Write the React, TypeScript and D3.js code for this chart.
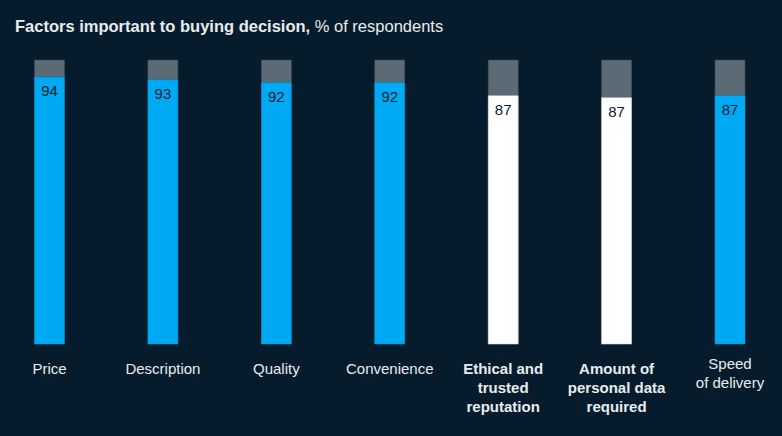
import React from "react";
import * as d3 from "d3";

const categories: string[][] = [
  ["Price"],
  ["Description"],
  ["Quality"],
  ["Convenience"],
  ["Ethical and", "trusted", "reputation"],
  ["Amount of", "personal data", "required"],
  ["Speed", "of delivery"],
];
const values: number[] = [94, 93, 92, 92, 87.4, 86.7, 87.4];
const highlighted: boolean[] = [false, false, false, false, true, true, false];
const labelShift: number[] = [0, 0, 0, 0, 0, 0, -5];

const W = 782;
const H = 436;
const BG = "#061c2c";
const BLUE = "#00a9f4";
const GREY = "#5b6a75";
const TEXT = "#e8ecef";

export default function App() {
  const x = d3
    .scalePoint<number>()
    .domain(values.map((_, i) => i))
    .range([49.5, 730]);
  const y = d3.scaleLinear().domain([0, 100]).range([344, 60]);
  const bw = 30;
  return (
    <svg
      width={W}
      height={H}
      style={{ position: "absolute", left: 0, top: 0, background: BG }}
      fontFamily="'Liberation Sans', Arial, sans-serif"
    >
      <rect width={W} height={H} fill={BG} />
      <text x={15} y={32} fontSize={16.5} fill={TEXT}>
        <tspan fontWeight="bold">Factors important to buying decision,</tspan>
        <tspan> % of respondents</tspan>
      </text>
      {values.map((v, i) => {
        const cx = x(i)!;
        return (
          <g key={i}>
            <rect
              x={cx - bw / 2}
              y={y(100)}
              width={bw}
              height={y(v) - y(100)}
              fill={GREY}
              stroke="#3d4f5c"
              strokeWidth={0.6}
            />
            <rect
              x={cx - bw / 2}
              y={y(v)}
              width={bw}
              height={y(0) - y(v)}
              fill={highlighted[i] ? "#ffffff" : BLUE}
              stroke={highlighted[i] ? "#d0d6da" : "#0a8fd0"}
              strokeWidth={0.6}
            />
            <text
              x={cx}
              y={y(v) + 19}
              textAnchor="middle"
              fontSize={15}
              fill="#0b1d2b"
            >
              {Math.round(v)}
            </text>
            <text
              x={cx}
              y={374 + labelShift[i]}
              textAnchor="middle"
              fontSize={15}
              fill={TEXT}
              fontWeight={highlighted[i] ? "bold" : "normal"}
            >
              {categories[i].map((line, j) => (
                <tspan key={j} x={cx} dy={j === 0 ? 0 : 19}>
                  {line}
                </tspan>
              ))}
            </text>
          </g>
        );
      })}
    </svg>
  );
}
